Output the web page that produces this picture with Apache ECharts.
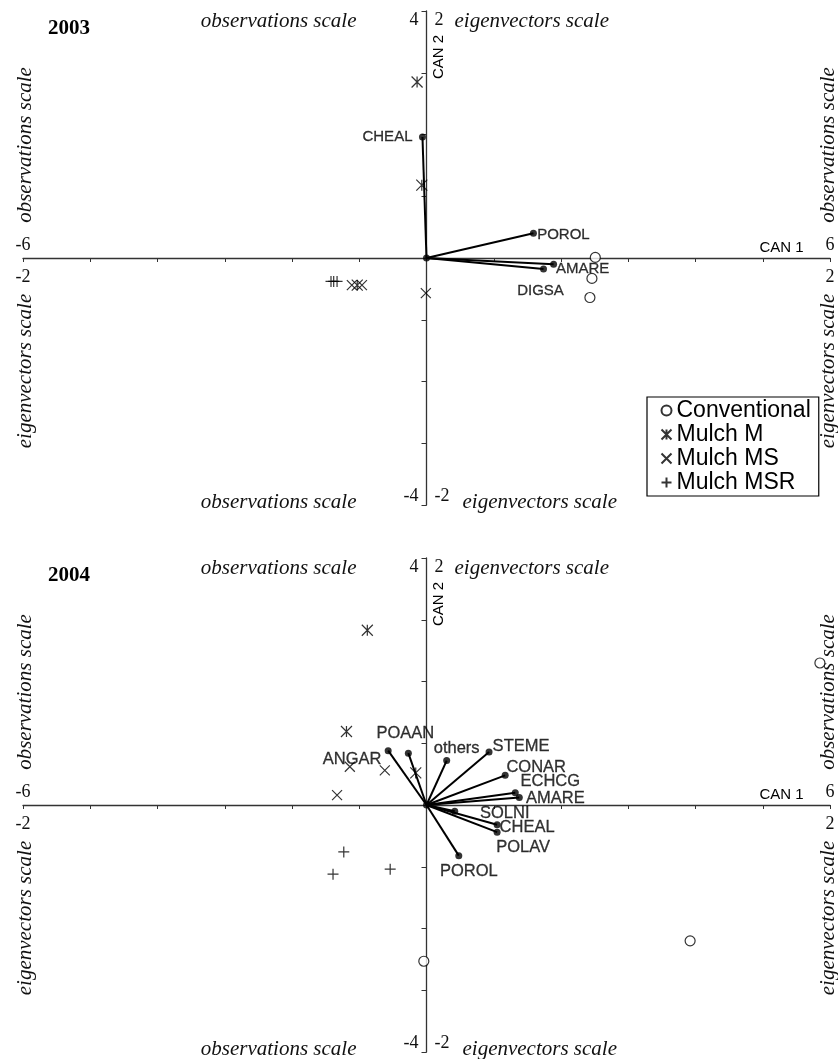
<!DOCTYPE html>
<html>
<head>
<meta charset="utf-8">
<script src="https://cdn.jsdelivr.net/npm/echarts@6/dist/echarts.min.js"></script>
<style>
  html, body { margin: 0; padding: 0; background: #fff; }
  #chart { width: 838px; height: 1059px; }
</style>
</head>
<body>
<div id="chart"></div>
<script>
// treatments (legend)
const treatments = ['Conventional', 'Mulch M', 'Mulch MS', 'Mulch MSR'];

// 2003 - observations scale [CAN 1, CAN 2]
const conv2003 = [[2.51, 0.01], [2.46, -0.33], [2.43, -0.64]];
const mulchM2003 = [[-0.14, 2.85], [-0.07, 1.18], [-1.03, -0.44]];
const mulchMS2003 = [[-1.11, -0.44], [-0.96, -0.44], [-0.01, -0.57]];
const mulchMSR2003 = [[-1.42, -0.38], [-1.38, -0.38], [-1.33, -0.38]];
// 2003 - eigenvectors scale
const species2003 = ['CHEAL', 'POROL', 'AMARE', 'DIGSA'];
const vec2003 = [[-0.02, 0.98], [0.53, 0.2], [0.63, -0.05], [0.58, -0.09]];

// 2004 - observations scale
const conv2004 = [[5.85, 2.3], [-0.04, -2.53], [3.92, -2.2]];
const mulchM2004 = [[-0.88, 2.83], [-1.19, 1.19], [-0.16, 0.52]];
const mulchMS2004 = [[-1.14, 0.62], [-0.62, 0.56], [-1.33, 0.16]];
const mulchMSR2004 = [[-1.23, -0.76], [-1.39, -1.12], [-0.54, -1.04]];
// 2004 - eigenvectors scale
const species2004 = ['ANGAR', 'POAAN', 'others', 'STEME', 'CONAR', 'ECHCG', 'AMARE', 'SOLNI', 'CHEAL', 'POLAV', 'POROL'];
const vec2004 = [[-0.19, 0.44], [-0.09, 0.42], [0.1, 0.36], [0.31, 0.43], [0.39, 0.24], [0.44, 0.1],
                 [0.46, 0.06], [0.14, -0.05], [0.35, -0.16], [0.35, -0.22], [0.16, -0.41]];

// axis ranges
const obsX = [-6, 6], obsY = [-4, 4], eigX = [-2, 2], eigY = [-2, 2];

// label offsets (px) for the vector names
const off2003 = [[-35, 0], [30, 2], [29, 5], [-3, 22]];
const off2004 = [[-36, 9], [-3, -20], [10, -12], [32, -5], [31, -8], [35, -11], [36, 1], [50, 2], [30, 3], [26, 15], [10, 16]];

// layout
const GL = 23, GR = 830, GW = GR - GL, CX = (GL + GR) / 2, PH = 494;
const panels = [{ top: 11, year: '2003' }, { top: 558, year: '2004' }];

const SERIF = 'Liberation Serif, Times New Roman, serif';
const SANS = 'Liberation Sans, Arial, sans-serif';

const symbols = {
  'Conventional': { symbol: 'circle', size: 10, fill: '#fff' },
  'Mulch M': { symbol: 'path://M0,0L10,10M10,0L0,10M5,0L5,10', size: 11, fill: 'none' },
  'Mulch MS': { symbol: 'path://M0,0L10,10M10,0L0,10', size: 10, fill: 'none' },
  'Mulch MSR': { symbol: 'path://M5,0L5,10M0,5L10,5', size: 11, fill: 'none' }
};

const chart = echarts.init(document.getElementById('chart'), null, { renderer: 'canvas' });

const grids = [], xAxes = [], yAxes = [], series = [], graphics = [];

function minMax(range) {
  return function (v) { return (v === range[0] || v === range[1]) ? String(v) : ''; };
}

panels.forEach(function (p, i) {
  grids.push({ left: GL, width: GW, top: p.top, height: PH, containLabel: false });
  const ox = i * 2, ex = i * 2 + 1;
  const numStyle = { color: '#111', fontFamily: SERIF, fontSize: 18 };
  // observations x axis (line, ticks, -6 / 6 above), moved to the middle of the grid
  xAxes.push({
    gridIndex: i, type: 'value', position: 'bottom', offset: -PH / 2,
    min: obsX[0], max: obsX[1], interval: 1,
    axisLine: { onZero: false, lineStyle: { color: '#333', width: 1.3 } },
    axisTick: { show: true, length: 4, lineStyle: { color: '#333' } },
    splitLine: { show: false },
    axisLabel: Object.assign({ inside: true, margin: 4, formatter: minMax(obsX) }, numStyle)
  });
  // eigenvectors x axis (-2 / 2 below)
  xAxes.push({
    gridIndex: i, type: 'value', position: 'bottom', offset: -PH / 2,
    min: eigX[0], max: eigX[1], interval: 2,
    axisLine: { show: false, onZero: false },
    axisTick: { show: false }, splitLine: { show: false },
    axisLabel: Object.assign({ margin: 10, formatter: minMax(eigX) }, numStyle)
  });
  // observations y axis (4 / -4 on the left)
  yAxes.push({
    gridIndex: i, type: 'value', position: 'left', offset: -GW / 2,
    min: obsY[0], max: obsY[1], interval: 1,
    axisLine: { onZero: false, lineStyle: { color: '#333', width: 1.3 } },
    axisTick: { show: true, length: 5, lineStyle: { color: '#333' } },
    splitLine: { show: false },
    axisLabel: Object.assign({ margin: 8, formatter: minMax(obsY),
      verticalAlignMaxLabel: 'top', verticalAlignMinLabel: 'bottom' }, numStyle)
  });
  // eigenvectors y axis (2 / -2 on the right of the line)
  yAxes.push({
    gridIndex: i, type: 'value', position: 'left', offset: -GW / 2,
    min: eigY[0], max: eigY[1], interval: 2,
    axisLine: { show: false, onZero: false },
    axisTick: { show: false }, splitLine: { show: false },
    axisLabel: Object.assign({ inside: true, margin: 8, formatter: minMax(eigY),
      verticalAlignMaxLabel: 'top', verticalAlignMinLabel: 'bottom' }, numStyle)
  });

  const obsData = i === 0
    ? [conv2003, mulchM2003, mulchMS2003, mulchMSR2003]
    : [conv2004, mulchM2004, mulchMS2004, mulchMSR2004];
  treatments.forEach(function (t, k) {
    const s = symbols[t];
    series.push({
      name: t, type: 'scatter', xAxisIndex: ox, yAxisIndex: ox,
      symbol: s.symbol, symbolSize: s.size, data: obsData[k], z: 3,
      itemStyle: { color: s.fill, borderColor: '#000', borderWidth: 1.2 }
    });
  });

  const names = i === 0 ? species2003 : species2004;
  const vecs = i === 0 ? vec2003 : vec2004;
  const offs = i === 0 ? off2003 : off2004;
  vecs.forEach(function (v) {
    series.push({
      type: 'line', xAxisIndex: ex, yAxisIndex: ex, data: [[0, 0], v],
      showSymbol: false, silent: true, z: 4,
      lineStyle: { color: '#000', width: 2 }
    });
  });
  series.push({
    type: 'scatter', xAxisIndex: ex, yAxisIndex: ex, symbol: 'circle', symbolSize: 7, z: 5,
    itemStyle: { color: '#000' },
    data: vecs.map(function (v, k) {
      return {
        name: names[k], value: v,
        label: { show: true, formatter: '{b}', position: 'inside', offset: offs[k],
          color: '#000', fontFamily: SANS, fontSize: i === 0 ? 15 : 16.5,
          textBorderColor: '#000', textBorderWidth: 0.3 }
      };
    }).concat([{ value: [0, 0] }])
  });

  const T = p.top, AY = T + PH / 2;
  const serifItalic = { fontFamily: SERIF, fontStyle: 'italic', fontSize: 21, fill: '#111' };
  const canStyle = { fontFamily: SANS, fontSize: 15, fill: '#000', align: 'center', verticalAlign: 'middle' };
  graphics.push(
    { type: 'text', left: 48, top: T + 7, style: { text: p.year, fontFamily: SERIF, fontWeight: 'bold', fontSize: 21, fill: '#000' } },
    { type: 'text', x: CX - 70, y: T + 10, style: Object.assign({ text: 'observations scale', align: 'right', verticalAlign: 'middle' }, serifItalic) },
    { type: 'text', x: CX + 28, y: T + 10, style: Object.assign({ text: 'eigenvectors scale', align: 'left', verticalAlign: 'middle' }, serifItalic) },
    { type: 'text', x: CX - 70, y: T + PH - 3, style: Object.assign({ text: 'observations scale', align: 'right', verticalAlign: 'middle' }, serifItalic) },
    { type: 'text', x: CX + 36, y: T + PH - 3, style: Object.assign({ text: 'eigenvectors scale', align: 'left', verticalAlign: 'middle' }, serifItalic) },
    { type: 'text', x: 25, y: AY - 113, rotation: Math.PI / 2, style: Object.assign({ text: 'observations scale', align: 'center', verticalAlign: 'middle' }, serifItalic) },
    { type: 'text', x: 25, y: AY + 113, rotation: Math.PI / 2, style: Object.assign({ text: 'eigenvectors scale', align: 'center', verticalAlign: 'middle' }, serifItalic) },
    { type: 'text', x: 828, y: AY - 113, rotation: Math.PI / 2, style: Object.assign({ text: 'observations scale', align: 'center', verticalAlign: 'middle' }, serifItalic) },
    { type: 'text', x: 828, y: AY + 113, rotation: Math.PI / 2, style: Object.assign({ text: 'eigenvectors scale', align: 'center', verticalAlign: 'middle' }, serifItalic) },
    { type: 'text', x: CX + 355, y: AY - 10, style: Object.assign({ text: 'CAN 1' }, canStyle) },
    { type: 'text', x: CX + 12, y: T + 46, rotation: Math.PI / 2, style: Object.assign({ text: 'CAN 2' }, canStyle) }
  );
});

chart.setOption({
  animation: false,
  backgroundColor: '#fff',
  grid: grids,
  xAxis: xAxes,
  yAxis: yAxes,
  legend: {
    data: treatments, orient: 'vertical', left: 647, top: 397,
    backgroundColor: '#fff', borderColor: '#000', borderWidth: 1.2,
    padding: [2, 8, 2, 12], itemGap: 1, itemWidth: 10, itemHeight: 10,
    textStyle: { fontFamily: SANS, fontSize: 23, color: '#000', lineHeight: 22 }
  },
  graphic: graphics,
  series: series
});
</script>
</body>
</html>
